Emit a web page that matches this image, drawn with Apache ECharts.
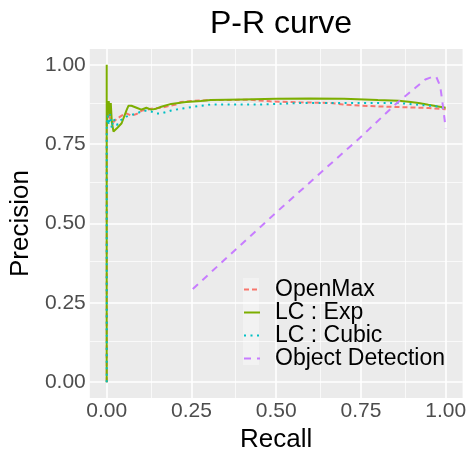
<!DOCTYPE html>
<html>
<head>
<meta charset="utf-8">
<script src="https://cdn.jsdelivr.net/npm/echarts@6/dist/echarts.min.js"></script>
<style>
  html, body { margin: 0; padding: 0; background: #fff; }
  #main { width: 469px; height: 458px; }
</style>
</head>
<body>
<div id="main"></div>
<script>
// tick labels
var tickValues = [0, 0.25, 0.5, 0.75, 1]
var minorValues = [0.125, 0.375, 0.625, 0.875]

// OpenMax
var openMaxRecall = [0, 0, 0.005, 0.01, 0.02, 0.03, 0.044, 0.058, 0.073, 0.088, 0.102, 0.131, 0.161, 0.204, 0.219, 0.248, 0.307, 0.423, 0.482, 0.569, 0.657, 0.701, 0.745, 0.803, 0.861, 0.95, 1.0]
var openMaxPrecision = [0, 0.82, 0.85, 0.83, 0.82, 0.83, 0.84, 0.847, 0.84, 0.845, 0.855, 0.862, 0.865, 0.875, 0.883, 0.886, 0.889, 0.89, 0.885, 0.882, 0.88, 0.875, 0.872, 0.869, 0.867, 0.864, 0.86]

// LC : Exp
var expRecall = [0, 0, 0, 0.003, 0.006, 0.009, 0.012, 0.015, 0.02, 0.03, 0.044, 0.058, 0.064, 0.073, 0.088, 0.102, 0.117, 0.131, 0.146, 0.161, 0.19, 0.234, 0.277, 0.307, 0.4, 0.5, 0.6, 0.7, 0.8, 0.861, 0.891, 0.92, 0.949, 0.978, 1.0]
var expPrecision = [0, 1.0, 0.80, 0.86, 0.886, 0.84, 0.88, 0.82, 0.79, 0.80, 0.816, 0.856, 0.871, 0.871, 0.865, 0.859, 0.865, 0.859, 0.862, 0.868, 0.877, 0.883, 0.886, 0.889, 0.891, 0.893, 0.894, 0.893, 0.889, 0.887, 0.884, 0.88, 0.874, 0.869, 0.865]

// LC : Cubic
var cubicRecall = [0, 0, 0.003, 0.006, 0.01, 0.015, 0.02, 0.03, 0.038, 0.05, 0.058, 0.073, 0.088, 0.102, 0.117, 0.131, 0.146, 0.161, 0.19, 0.219, 0.277, 0.307, 0.45, 0.57, 0.66, 0.75, 0.86, 0.92, 0.978, 1.0]
var cubicPrecision = [0, 0.80, 0.84, 0.81, 0.845, 0.80, 0.83, 0.81, 0.825, 0.83, 0.837, 0.842, 0.847, 0.853, 0.856, 0.853, 0.847, 0.847, 0.856, 0.862, 0.871, 0.875, 0.875, 0.88, 0.88, 0.88, 0.88, 0.874, 0.869, 0.862]

// Object Detection
var odRecall = [0.254, 0.5, 0.753, 0.853, 0.94, 0.96, 0.972, 0.984, 0.993, 1.0]
var odPrecision = [0.294, 0.535, 0.776, 0.877, 0.954, 0.962, 0.963, 0.933, 0.862, 0.80]

function zip(xs, ys) {
  return xs.map(function(x, i) { return [x, ys[i]] })
}

function curve(name, xs, ys, color, dash) {
  return {
    name: name,
    type: 'line',
    z: 3,
    data: zip(xs, ys),
    showSymbol: false,
    symbol: 'none',
    silent: true,
    lineStyle: { color: color, width: 2, type: dash, cap: 'butt' },
    itemStyle: { color: color }
  }
}

var gridLines = []
tickValues.forEach(function(v) {
  gridLines.push({ xAxis: v, lineStyle: { width: 1.6 } })
  gridLines.push({ yAxis: v, lineStyle: { width: 1.6 } })
})
minorValues.forEach(function(v) {
  gridLines.push({ xAxis: v, lineStyle: { width: 0.7 } })
  gridLines.push({ yAxis: v, lineStyle: { width: 0.7 } })
})

var chart = echarts.init(document.getElementById('main'), null, { renderer: 'canvas' })
chart.setOption({
  animation: false,
  textStyle: { fontFamily: 'Liberation Sans' },
  title: {
    text: 'P-R curve',
    left: 276,
    textAlign: 'center',
    top: 3,
    textStyle: { fontSize: 32, fontWeight: 'normal', color: '#000', fontFamily: 'Liberation Sans' }
  },
  grid: {
    left: 88, right: 4, top: 49, bottom: 51,
    show: true, backgroundColor: '#EBEBEB', borderWidth: 0
  },
  legend: {
    orient: 'vertical',
    left: 243,
    top: 278,
    padding: 0,
    itemWidth: 16,
    itemHeight: 4,
    itemGap: 0,
    itemStyle: { opacity: 0 },
    data: ['OpenMax', 'LC : Exp', 'LC : Cubic', 'Object Detection'],
    textStyle: { fontSize: 23, color: '#000', lineHeight: 22, padding: [0, 0, 0, 10] }
  },
  graphic: [{
    type: 'rect',
    shape: { x: 243, y: 278, width: 16, height: 87 },
    style: { fill: '#F2F2F2' },
    z: 1
  }],
  xAxis: {
    type: 'value',
    min: -0.05,
    max: 1.05,
    name: 'Recall',
    nameLocation: 'middle',
    nameGap: 21,
    nameTextStyle: { fontSize: 26, color: '#000' },
    axisLine: { show: false },
    axisTick: { show: false },
    splitLine: { show: false },
    axisLabel: {
      customValues: tickValues,
      fontSize: 21,
      color: '#4D4D4D',
      margin: 3,
      formatter: function(v) { return v.toFixed(2) }
    }
  },
  yAxis: {
    type: 'value',
    min: -0.05,
    max: 1.05,
    name: 'Precision',
    nameLocation: 'middle',
    nameGap: 52,
    nameTextStyle: { fontSize: 26, color: '#000' },
    axisLine: { show: false },
    axisTick: { show: false },
    splitLine: { show: false },
    axisLabel: {
      customValues: tickValues,
      fontSize: 21,
      color: '#4D4D4D',
      margin: 4,
      formatter: function(v) { return v.toFixed(2) }
    }
  },
  series: [
    {
      type: 'line',
      z: 1,
      data: [],
      silent: true,
      markLine: {
        z: 1,
        silent: true,
        symbol: 'none',
        label: { show: false },
        lineStyle: { color: '#FFFFFF', type: 'solid' },
        data: gridLines
      }
    },
    curve('OpenMax', openMaxRecall, openMaxPrecision, '#F8766D', [5, 3]),
    curve('LC : Exp', expRecall, expPrecision, '#7CAE00', 'solid'),
    curve('LC : Cubic', cubicRecall, cubicPrecision, '#00BFC4', [2, 4.5]),
    curve('Object Detection', odRecall, odPrecision, '#C77CFF', [7, 6])
  ]
})
</script>
</body>
</html>
